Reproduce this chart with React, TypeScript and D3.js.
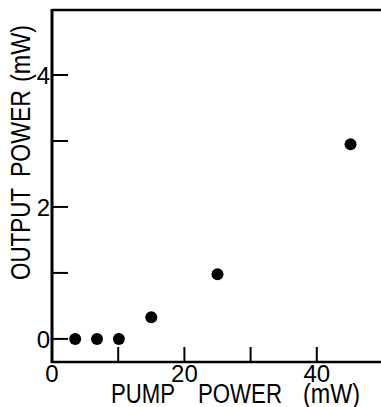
import * as d3 from "d3"

// pump power (mW) vs output power (mW)
const pumpPower = [3.5, 6.8, 10.1, 15, 25, 45.1]
const outputPower = [0, 0, 0, 0.33, 0.98, 2.95]

const xTicks = [10, 20, 30, 40]
const xTickLabels = [0, 20, 40]
const yTicks = [0, 1, 2, 3, 4]
const yTickLabels = [0, 2, 4]

const width = 381
const height = 407
const font = "'Liberation Sans', Arial, sans-serif"

export default function App() {
  const x = d3.scaleLinear().domain([0, 49.7]).range([52, 381])
  const y = d3.scaleLinear().domain([-0.35, 4.985]).range([362, 10])

  const left = x(0)
  const bottom = y.range()[0]
  const top = y.range()[1]
  const right = x.range()[1]

  return (
    <div style={{ position: "fixed", left: 0, top: 0 }}>
      <svg width={width} height={height} style={{ display: "block", background: "#fff" }}>
        {/* frame */}
        <line x1={left} x2={left} y1={top - 1} y2={bottom + 1} stroke="#000" strokeWidth={3} />
        <line x1={left} x2={right} y1={top} y2={top} stroke="#000" strokeWidth={2.5} />
        <line x1={left - 1} x2={right} y1={bottom} y2={bottom} stroke="#000" strokeWidth={2.5} />

        {/* x ticks, pointing inward */}
        {xTicks.map((t) => (
          <line key={"xt" + t} x1={x(t)} x2={x(t)} y1={bottom} y2={bottom - 15} stroke="#000" strokeWidth={2} />
        ))}
        {xTickLabels.map((t) => (
          <text key={"xl" + t} x={x(t)} y={382} textAnchor="middle" fontFamily={font} fontSize={24}>
            {t}
          </text>
        ))}

        {/* y ticks */}
        {yTicks.map((t) => (
          <line key={"yt" + t} x1={left} x2={left + 16} y1={y(t)} y2={y(t)} stroke="#000" strokeWidth={2} />
        ))}
        {yTickLabels.map((t) => (
          <text key={"yl" + t} x={50} y={y(t)} dy="0.36em" textAnchor="end" fontFamily={font} fontSize={24}>
            {t}
          </text>
        ))}

        {/* points */}
        {pumpPower.map((p, i) => (
          <circle key={"pt" + i} cx={x(p)} cy={y(outputPower[i])} r={6} fill="#000" />
        ))}

        {/* axis titles, condensed lettering */}
        <g fontFamily={font} fontSize={27}>
          <text x={111} y={403} textLength={64} lengthAdjust="spacingAndGlyphs">PUMP</text>
          <text x={198} y={403} textLength={84} lengthAdjust="spacingAndGlyphs">POWER</text>
          <text x={303} y={403} textLength={57} lengthAdjust="spacingAndGlyphs">(mW)</text>
        </g>
        <g fontFamily={font} fontSize={28} transform="translate(30,0) rotate(-90)">
          <text x={-280} y={0} textLength={92} lengthAdjust="spacingAndGlyphs">OUTPUT</text>
          <text x={-177} y={0} textLength={87} lengthAdjust="spacingAndGlyphs">POWER</text>
          <text x={-82} y={0} textLength={57} lengthAdjust="spacingAndGlyphs">(mW)</text>
        </g>
      </svg>
    </div>
  )
}
